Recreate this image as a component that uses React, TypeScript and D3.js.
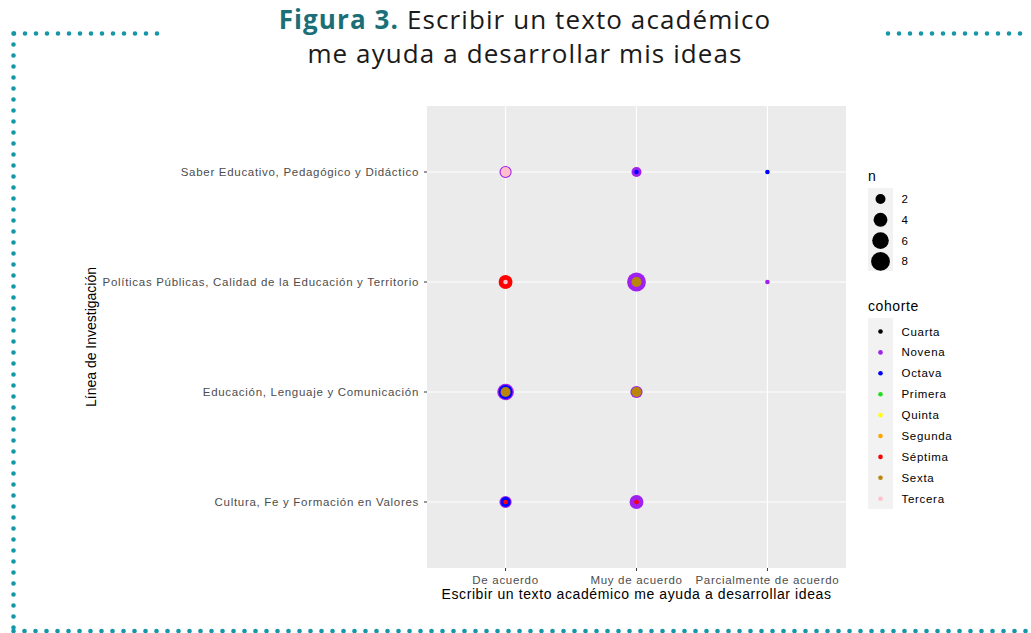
import React from "react";
import { scalePoint, scaleSqrt } from "d3";

// categorias (de arriba hacia abajo en el eje y)
const lineas = [
  "Saber Educativo, Pedagógico y Didáctico",
  "Políticas Públicas, Calidad de la Educación y Territorio",
  "Educación, Lenguaje y Comunicación",
  "Cultura, Fe y Formación en Valores",
];
const respuestas = ["De acuerdo", "Muy de acuerdo", "Parcialmente de acuerdo"];

const cohortes = ["Cuarta", "Novena", "Octava", "Primera", "Quinta", "Segunda", "Séptima", "Sexta", "Tercera"];
const cohorteColores = ["#000000", "#a020f0", "#0000ff", "#22dd22", "#ffff00", "#ffa500", "#ff0000", "#b8860b", "#ffc0cb"];

const nBreaks = [2, 4, 6, 8];

// [linea, respuesta, cohorte, n]
const puntos: [number, number, string, number][] = [
  [0, 0, "Novena", 3],
  [0, 0, "Tercera", 2],
  [0, 1, "Novena", 2],
  [0, 1, "Octava", 1],
  [0, 2, "Octava", 1],
  [1, 0, "Séptima", 4],
  [1, 0, "Tercera", 1],
  [1, 1, "Novena", 8],
  [1, 1, "Sexta", 2],
  [1, 2, "Novena", 1],
  [2, 0, "Novena", 6],
  [2, 0, "Octava", 4],
  [2, 0, "Sexta", 2],
  [2, 1, "Novena", 3],
  [2, 1, "Sexta", 2],
  [3, 0, "Novena", 3],
  [3, 0, "Octava", 2],
  [3, 0, "Séptima", 1],
  [3, 1, "Novena", 4],
  [3, 1, "Séptima", 1],
];

const W = 1031;
const H = 633;
const panel = { left: 427, right: 846, top: 106, bottom: 568 };
const teal = "#1597a8";
const axisFont = "'Liberation Sans', Arial, sans-serif";

function DottedBorder() {
  const common = {
    stroke: teal,
    strokeWidth: 4.6,
    strokeLinecap: "round" as const,
    strokeDasharray: "0 11",
  };
  return (
    <g>
      <line x1={14} y1={33.5} x2={164} y2={33.5} {...common} />
      <line x1={888} y1={33.5} x2={1031} y2={33.5} {...common} />
      <line x1={13.5} y1={33.5} x2={13.5} y2={631} {...common} />
      <line x1={13.5} y1={631} x2={1031} y2={631} {...common} />
    </g>
  );
}

export default function App() {
  const x = scalePoint<string>().domain(respuestas).range([panel.left, panel.right]).padding(0.6);
  const y = scalePoint<string>().domain(lineas).range([panel.top, panel.bottom]).padding(0.6);
  const r = scaleSqrt().domain([0, 8]).range([2.3, 9.9]);
  const radius = (n: number) => r(n - 1);
  const color = (c: string) => cohorteColores[cohortes.indexOf(c)];

  const sorted = [...puntos].sort((a, b) => b[3] - a[3]);

  const tickStyle = { fontFamily: axisFont, fontSize: 11.5, letterSpacing: 0.7, fill: "#4d4d4d" };
  const titleStyle = { fontFamily: axisFont, fontSize: 14, letterSpacing: 0.6, fill: "#000" };
  const legendText = { fontFamily: axisFont, fontSize: 11.5, letterSpacing: 0.7, fill: "#000" };

  return (
    <div style={{ position: "absolute", left: 0, top: 0 }}>
      <svg width={W} height={H} style={{ display: "block", background: "#fff" }}>
        <DottedBorder />

        <text x={525} y={29} textAnchor="middle" fontFamily="'Open Sans', sans-serif" fontSize={26} letterSpacing={1.1} fill="#1a1a1a">
          <tspan fill="#1b6f76" fontWeight={700}>Figura 3.</tspan>
          <tspan> Escribir un texto académico</tspan>
        </text>
        <text x={525} y={63} textAnchor="middle" fontFamily="'Open Sans', sans-serif" fontSize={26} letterSpacing={1.1} fill="#1a1a1a">
          me ayuda a desarrollar mis ideas
        </text>

        {/* panel */}
        <rect x={panel.left} y={panel.top} width={panel.right - panel.left} height={panel.bottom - panel.top} fill="#ebebeb" />
        {respuestas.map((d) => (
          <line key={d} x1={x(d)} x2={x(d)} y1={panel.top} y2={panel.bottom} stroke="#fff" strokeWidth={1.1} />
        ))}
        {lineas.map((d) => (
          <line key={d} x1={panel.left} x2={panel.right} y1={y(d)} y2={y(d)} stroke="#fff" strokeWidth={1.1} />
        ))}

        {sorted.map(([li, ri, c, n], i) => (
          <circle key={i} cx={x(respuestas[ri])} cy={y(lineas[li])} r={radius(n)} fill={color(c)} />
        ))}

        {/* eje x */}
        {respuestas.map((d) => (
          <g key={d} transform={`translate(${x(d)},${panel.bottom})`}>
            <line y1={0} y2={3} stroke="#333" />
            <text y={16} textAnchor="middle" {...tickStyle}>
              {d}
            </text>
          </g>
        ))}
        <text x={(panel.left + panel.right) / 2} y={599} textAnchor="middle" {...titleStyle}>
          Escribir un texto académico me ayuda a desarrollar ideas
        </text>

        {/* eje y */}
        {lineas.map((d) => (
          <g key={d} transform={`translate(${panel.left},${y(d)})`}>
            <line x1={-3} x2={0} stroke="#333" />
            <text x={-8} dy="0.35em" textAnchor="end" {...tickStyle}>
              {d}
            </text>
          </g>
        ))}
        <text
          transform={`translate(96,${(panel.top + panel.bottom) / 2}) rotate(-90)`}
          textAnchor="middle"
          fontFamily={axisFont}
          fontSize={14}
          fill="#000"
        >
          Línea de Investigación
        </text>

        {/* leyenda n */}
        <text x={868} y={181} {...titleStyle}>n</text>
        <rect x={868} y={188} width={25} height={83} fill="#f2f2f2" />
        {nBreaks.map((n, i) => (
          <g key={n} transform={`translate(880.5,${199 + i * 20.8})`}>
            <circle r={radius(n)} fill="#000" />
            <text x={21} dy="0.35em" {...legendText}>{n}</text>
          </g>
        ))}

        {/* leyenda cohorte */}
        <text x={868} y={311} {...titleStyle}>cohorte</text>
        <rect x={868} y={318} width={25} height={191} fill="#f2f2f2" />
        {cohortes.map((c, i) => (
          <g key={c} transform={`translate(880.5,${331.5 + i * 20.9})`}>
            <circle r={2.3} fill={cohorteColores[i]} />
            <text x={21} dy="0.35em" {...legendText}>{c}</text>
          </g>
        ))}
      </svg>
    </div>
  );
}
